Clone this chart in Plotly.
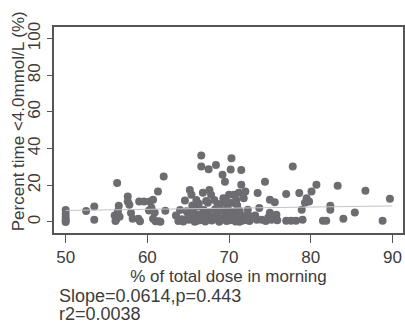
import plotly.graph_objects as go

# % of total dose in morning vs percent time <4.0 mmol/L
dose_morning = [
    50.0, 50.0, 50.0, 50.0, 50.0,
    52.5, 53.5, 53.5,
    56.0, 56.2, 56.3, 56.5, 56.4, 56.1, 56.6,
    57.6, 57.6, 57.8, 58.0, 58.2,
    59.0, 58.9, 59.1,
    59.6, 60.3, 60.7, 60.2, 60.5, 60.7, 60.9,
    61.3, 61.0, 61.4, 61.6,
    62.0, 62.2,
    63.8, 64.2, 64.4, 64.6, 64.8, 65.0, 65.2, 65.4, 65.5, 65.6, 65.7, 65.8,
    66.0, 66.2, 66.3, 66.4, 66.6, 66.6, 66.8, 66.9, 67.0, 67.1,
    67.5, 67.6, 67.8, 67.4, 67.5, 67.7, 67.9,
    68.4, 68.2, 68.3, 68.5, 68.6, 68.8, 68.9,
    69.2, 69.5, 69.3, 69.4, 69.6, 69.7, 69.8,
    70.3, 70.2, 70.0, 70.6, 70.4, 70.5, 70.6, 70.8, 70.1,
    71.5, 71.5, 71.2, 71.8, 71.0, 71.3, 71.5, 71.7, 71.9,
    72.0, 72.3, 72.3, 72.5, 72.8,
    73.5, 73.7, 73.4, 73.2,
    63.5, 64.0, 65.1, 66.0, 66.5, 67.3, 68.0, 68.7, 69.0, 70.0,
    70.9, 71.3, 72.1, 72.6, 67.0, 69.9,
    66.3, 67.2, 68.6, 69.7, 70.9,
    74.4, 74.0, 74.5, 75.0, 75.6, 75.0, 75.8, 75.2, 75.9, 74.8,
    77.0, 77.0, 77.6, 77.8, 78.2, 78.6, 78.9, 79.0,
    79.5, 79.8, 79.3, 80.1, 80.7,
    81.5, 81.9, 82.4, 82.4, 83.3, 84.0, 85.4, 86.7, 88.8, 89.7,
]
pct_time_low = [
    6.5, 4.5, 2.5, 1.0, 0.0,
    6.0, 8.5, 1.2,
    3.5, 1.5, 21.2, 8.9, 5.8, 0.5, 2.8,
    13.9, 11.2, 9.4, 4.9, 1.8,
    11.2, 1.8, 0.4,
    11.2, 11.2, 12.1, 6.3, 7.8, 1.8, 5.2,
    16.6, 0.4, 0.4, 0.2,
    24.8, 6.1,
    0.5, 1.5, 0.3, 11.7, 5.8, 3.0, 17.5, 14.8, 9.0, 6.0, 2.0, 0.2,
    12.0, 8.5, 4.0, 1.0, 36.2, 30.2, 16.0, 6.5, 2.5, 0.3,
    28.8, 17.5, 14.8, 10.5, 5.5, 3.0, 0.8,
    31.1, 12.0, 7.0, 4.5, 1.5, 0.2, 9.5,
    25.7, 22.0, 13.0, 6.0, 3.0, 0.5, 8.0,
    34.8, 28.6, 14.8, 14.8, 10.5, 5.5, 2.0, 0.3, 1.0,
    28.4, 20.3, 16.0, 13.0, 9.0, 6.0, 3.5, 0.8, 1.8,
    16.6, 6.7, 4.0, 0.5, 2.0,
    15.8, 7.6, 1.2, 3.5,
    3.5, 6.5, 1.2, 0.5, 2.8, 1.5, 2.2, 5.5, 1.8, 3.8,
    4.5, 0.2, 1.2, 3.0, 4.5, 6.5,
    10.0, 11.5, 9.8, 11.0, 12.0,
    22.0, 1.2, 0.5, 12.1, 10.8, 5.0, 4.0, 1.2, 1.0, 2.5,
    15.2, 0.7, 0.7, 30.2, 0.7, 15.8, 6.7, 1.2,
    13.0, 11.2, 10.5, 16.6, 20.3,
    0.7, 0.7, 8.9, 6.7, 19.7, 1.8, 5.2, 17.0, 0.7, 12.7,
]

# Linear fit reported below the chart
slope = 0.0614
intercept = 3.23
fit_x = [50, 90]
fit_y = [intercept + slope * v for v in fit_x]

x_ticks = [50, 60, 70, 80, 90]
y_ticks = [0, 20, 40, 60, 80, 100]

font_family = "Liberation Sans, Arial, sans-serif"
axis_color = "#555555"
text_color = "#3c3c3c"

# plot area in pixels: left 54.3, right 403.3, top 26.7, bottom 233.3
plot_w = 349.0
plot_h = 206.6


def px_x(px):
    return (px - 54.3) / plot_w


def px_y(py):
    return (233.3 - py) / plot_h


fig = go.Figure()
fig.add_trace(go.Scatter(
    x=dose_morning, y=pct_time_low, mode="markers",
    marker=dict(color="#6c6c71", size=8, line=dict(width=0)),
    showlegend=False,
))
fig.add_trace(go.Scatter(
    x=fit_x, y=fit_y, mode="lines",
    line=dict(color="#c4c4c8", width=1),
    showlegend=False,
))

fig.update_layout(
    width=405, height=336,
    margin=dict(l=54.3, r=1.7, t=26.7, b=102.7),
    paper_bgcolor="white", plot_bgcolor="white",
    font=dict(family=font_family, size=17, color=text_color),
    xaxis=dict(
        range=[48.57, 91.3], tickvals=x_ticks, ticks="outside", ticklen=8,
        tickcolor=axis_color, tickwidth=1.2,
        showline=True, linecolor=axis_color, linewidth=1.5, mirror=True,
        showgrid=False, zeroline=False,
        tickfont=dict(size=17, color=text_color),
        title=dict(text="% of total dose in morning", font=dict(size=17), standoff=1),
    ),
    yaxis=dict(
        range=[-6.0, 106.3], tickvals=y_ticks, ticks="outside", ticklen=5,
        tickcolor=axis_color, tickwidth=1.2, tickangle=-90,
        showline=True, linecolor=axis_color, linewidth=1.5, mirror=True,
        showgrid=False, zeroline=False,
        tickfont=dict(size=17, color=text_color),
    ),
    annotations=[
        dict(
            text="Percent time <4.0mmol/L (%)", textangle=-90,
            xref="paper", yref="paper", x=px_x(19), y=px_y(121.5),
            xanchor="center", yanchor="middle", showarrow=False,
            font=dict(size=17, color=text_color),
        ),
        dict(
            text="Slope=0.0614,p=0.443",
            xref="paper", yref="paper", x=px_x(57), y=px_y(296),
            xanchor="left", yanchor="middle", showarrow=False,
            font=dict(size=18, color=text_color),
        ),
        dict(
            text="r2=0.0038",
            xref="paper", yref="paper", x=px_x(57), y=px_y(314.5),
            xanchor="left", yanchor="middle", showarrow=False,
            font=dict(size=18, color=text_color),
        ),
    ],
)

fig.write_html("out.html")
